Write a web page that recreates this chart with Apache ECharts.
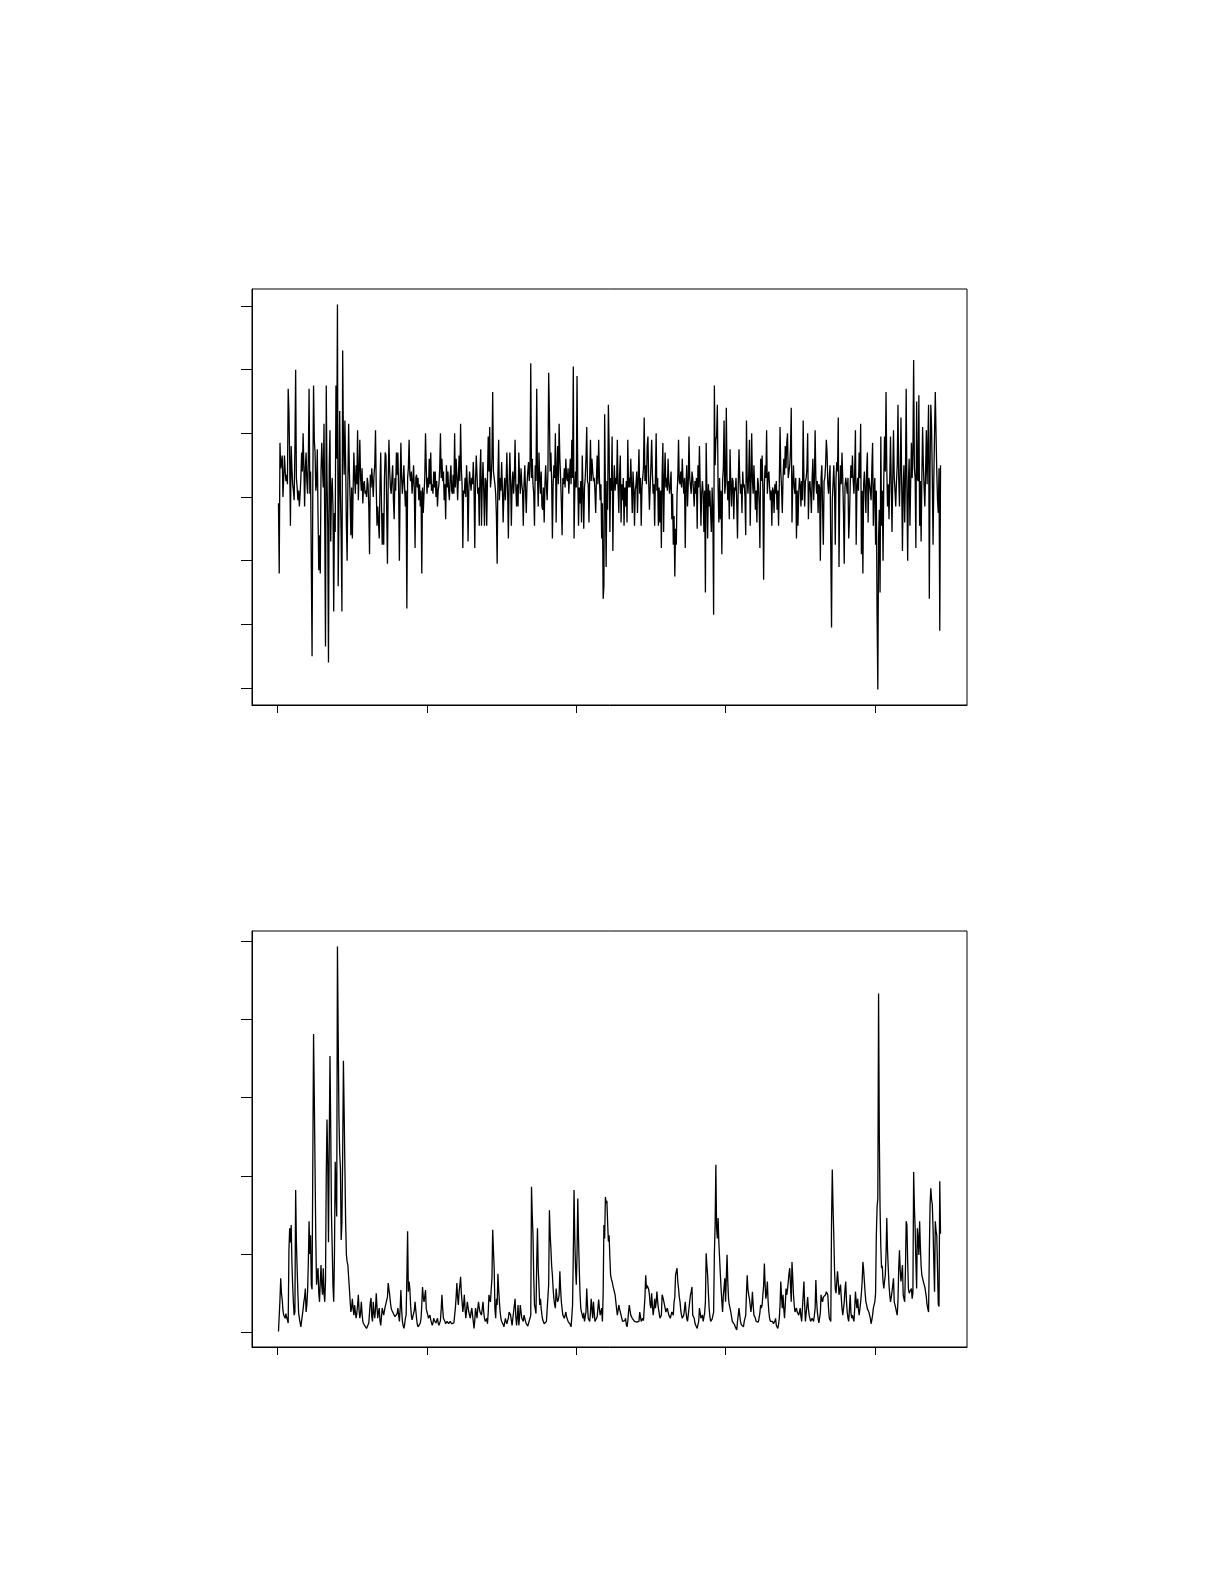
<!DOCTYPE html>
<html>
<head>
<meta charset="utf-8">
<script src="https://cdn.jsdelivr.net/npm/echarts@6/dist/echarts.min.js"></script>
<style>
  html, body { margin: 0; padding: 0; background: #fff; }
  #chart { width: 1225px; height: 1585px; }
</style>
</head>
<body>
<div id="chart"></div>
<script>
const returnsPct = [
-0.2,-2.4,1.7,0.9,1.1,1.3,0.0,0.6,1.3,0.8,
0.5,0.7,0.4,3.4,2.7,1.2,-0.9,1.6,0.9,0.4,
0.2,-0.1,1.5,4.0,0.6,0.3,-0.1,0.2,-0.3,0.1,
0.6,1.4,0.8,2.0,1.0,-0.3,0.9,1.4,0.5,0.1,
1.2,3.4,0.1,0.8,-2.2,-5.0,0.4,3.5,1.8,1.4,
0.2,0.4,1.5,-0.6,-2.3,-1.2,-2.4,0.8,1.7,0.9,
0.3,2.3,-0.9,-4.7,3.5,0.6,-0.9,-5.2,1.0,2.1,
-1.4,0.2,0.6,-0.3,-3.6,-0.5,-1.1,3.5,1.2,6.05,
-2.8,-0.6,2.7,0.1,-1.2,-3.6,4.6,1.8,0.7,2.4,
1.0,-0.9,-2.0,0.5,2.3,0.8,-0.1,-1.2,0.3,-1.3,
0.2,1.4,0.6,0.1,1.0,0.4,2.1,-0.1,0.8,1.8,
0.6,0.2,0.9,-0.2,0.4,0.5,0.1,0.2,0.0,0.6,
0.4,-0.3,-1.8,0.7,0.3,0.9,0.5,0.0,0.7,1.0,
2.1,0.3,-0.9,-0.3,-0.8,-1.3,0.4,1.4,-0.2,-1.5,
-0.5,-1.5,0.6,1.4,1.3,-0.4,-2.1,0.5,1.8,0.8,
0.3,0.1,0.6,1.0,-0.1,-0.7,0.6,0.2,1.4,0.7,
1.4,0.2,-2.0,0.4,1.7,0.6,0.1,0.5,1.0,0.3,
-0.3,0.2,-3.5,0.6,0.9,1.8,0.7,0.5,0.8,0.1,
0.5,1.0,0.2,-1.6,0.6,0.7,0.3,0.6,-0.1,0.4,
-0.3,0.2,-2.4,0.3,-0.5,0.1,0.6,2.0,0.9,0.1,
0.6,0.3,1.2,0.4,1.4,0.2,0.4,0.1,0.8,0.3,
0.8,0.0,0.5,-0.3,0.2,0.4,0.9,2.0,0.6,1.2,
0.5,0.8,-0.1,0.4,-0.7,1.0,0.3,0.8,0.2,-0.1,
0.6,1.0,0.2,0.1,0.7,0.1,2.0,0.3,1.2,0.7,
-0.1,0.6,1.3,0.5,2.3,0.9,0.4,-1.6,0.2,0.1,
0.6,0.0,1.0,0.4,-1.4,0.2,0.8,0.5,0.2,0.6,
0.4,1.1,0.3,-1.6,0.5,1.3,0.7,0.1,0.3,-0.9,
0.8,1.5,-0.9,0.4,1.1,0.2,-0.9,0.6,0.5,-0.9,
0.6,1.9,0.8,2.2,0.3,0.6,1.2,3.3,0.8,0.8,
0.4,0.1,-0.6,-2.1,0.7,1.8,-0.1,0.6,0.2,1.1,
0.3,-0.8,0.1,0.6,-0.1,0.5,1.4,0.2,-1.3,0.4,
1.4,0.5,-0.9,0.4,0.8,0.1,0.6,1.8,0.3,-0.3,
0.4,-0.3,1.4,0.6,0.1,0.9,0.4,0.2,-0.9,0.4,
1.0,0.2,-0.5,0.4,0.8,1.1,0.5,1.0,4.2,0.6,
1.2,0.4,0.1,-0.9,1.0,0.5,3.4,0.7,-0.3,1.4,
0.6,0.1,0.8,-0.3,-0.4,0.3,-0.8,0.4,1.0,0.3,
-0.1,0.8,3.9,2.6,0.8,1.4,0.5,-1.3,0.4,1.0,
0.6,2.0,-0.8,0.8,1.6,0.4,2.3,1.2,0.6,-0.2,
-1.2,0.6,0.4,0.9,0.3,1.2,0.6,0.5,0.9,0.1,
0.7,1.2,0.4,1.8,0.6,4.1,-1.3,0.2,0.8,0.3,
3.8,0.6,-0.9,0.3,-0.2,0.5,-0.8,1.3,0.2,-1.0,
0.3,0.6,1.2,2.2,0.5,0.4,-0.8,0.7,1.8,0.5,
1.2,0.8,0.5,0.6,0.2,-0.5,0.6,1.3,0.4,1.8,
0.6,-0.1,0.4,-1.3,-0.2,-3.2,-2.8,2.6,0.2,-2.2,
0.5,-0.4,2.9,1.6,-1.1,0.6,0.2,1.9,-1.7,0.3,
1.0,0.2,0.6,0.4,1.8,0.3,-0.5,0.7,1.3,-0.8,
0.4,-0.1,0.6,-0.9,0.3,-0.3,0.5,-0.8,1.8,0.3,
0.6,0.3,1.2,0.4,-0.5,0.8,0.3,-0.9,0.2,0.4,
0.8,-0.5,0.6,1.5,0.1,0.6,-0.9,0.3,0.6,0.9,
2.5,0.5,1.0,0.4,1.6,1.9,0.5,-0.4,0.3,1.0,
1.8,0.7,0.1,0.4,-0.9,0.6,2.0,0.2,0.6,-0.9,
0.3,-0.8,0.2,-1.6,0.7,1.7,-1.1,0.5,1.4,0.3,
0.6,0.2,1.2,0.4,0.1,0.4,0.8,-0.7,0.1,-1.5,
-0.6,-2.5,-1.0,-1.5,0.1,0.6,1.8,0.5,0.4,0.8,
0.3,1.2,0.5,0.1,0.6,-1.6,0.4,1.0,-0.3,0.4,
1.9,0.6,0.6,0.1,0.8,0.6,0.2,-0.3,0.5,0.1,
0.6,-1.0,1.0,0.3,1.6,0.4,-0.9,0.1,0.5,0.1,
-1.1,0.2,-3.0,1.7,0.2,-1.3,0.4,-0.3,0.2,-0.5,
-1.1,0.3,-0.5,-3.7,3.5,1.0,1.8,1.9,2.9,0.3,
-0.8,0.6,-0.7,0.2,-1.8,0.5,0.9,2.4,0.1,0.4,
2.8,0.6,-0.1,0.5,-0.7,1.5,0.4,-0.3,0.6,0.5,
-0.7,0.3,0.2,0.6,-0.2,-1.3,0.4,1.5,0.6,0.1,
0.4,-0.5,0.8,0.3,0.4,0.0,-1.2,2.4,0.6,0.1,
0.7,1.8,-0.9,0.4,2.0,0.5,0.1,1.0,0.3,-0.4,
0.2,-0.8,0.6,0.4,-0.2,-1.6,1.2,0.5,1.3,0.2,
-2.6,0.4,1.0,0.6,2.1,0.1,0.7,0.8,0.3,-0.1,
0.2,-0.9,0.3,0.2,-0.5,0.4,0.1,0.5,-0.4,0.2,
-0.9,0.4,2.2,0.8,0.3,-0.5,0.6,1.2,0.7,1.6,
0.9,1.7,2.0,0.6,0.6,1.0,1.5,2.8,-0.8,0.4,
1.0,0.3,0.1,0.6,-1.3,0.2,-0.9,0.1,0.6,0.4,
-0.3,0.5,-0.1,2.4,0.6,-0.3,0.5,0.6,0.9,2.0,
-0.7,0.4,0.5,0.1,-0.5,0.6,1.2,-0.1,0.5,2.1,
0.6,0.1,0.5,-0.5,0.4,0.3,-2.0,0.6,1.0,-0.4,
-1.5,0.5,0.6,1.0,1.8,1.4,0.4,0.1,0.6,1.0,
-1.7,-4.1,-0.1,0.4,1.0,0.2,-1.5,0.6,1.1,0.8,
2.5,-2.2,0.2,1.0,0.4,1.4,0.6,-0.5,-2.1,0.3,
0.6,0.4,0.1,0.6,-1.3,-0.7,0.4,1.0,0.6,1.3,
0.5,0.1,0.8,2.1,-1.5,0.3,0.6,0.2,1.4,0.6,
2.3,-1.8,0.2,-2.4,0.4,0.8,0.2,-0.5,0.8,1.4,
-0.8,0.6,0.6,0.2,-0.1,0.9,1.7,-0.9,0.3,0.6,
-1.5,0.2,-3.7,-6.05,-1.3,-0.4,-3.0,1.9,-0.9,0.2,
-2.0,0.6,1.9,0.8,3.3,0.9,-0.3,0.4,-0.7,0.6,
1.9,0.4,-1.1,0.6,2.1,0.6,0.2,-0.3,0.5,1.0,
2.9,0.6,-0.3,0.8,2.5,0.4,-1.7,0.3,1.0,-0.8,
0.6,3.4,0.2,-2.0,0.5,1.2,-0.9,0.4,1.7,0.6,
1.4,4.3,0.9,0.6,-1.6,3.0,0.6,0.5,3.2,-0.9,
0.5,-1.4,0.6,2.2,1.0,0.3,-0.3,0.8,2.1,0.4,
0.4,2.9,-3.2,1.0,2.9,2.2,0.6,-1.5,0.5,2.0,
3.3,2.0,0.8,-0.1,-0.5,0.9,-4.2,1.0
];

const condVariance = [
0.1,0.3,4.2,6.9,5.0,4.2,2.8,2.2,2.0,1.8,
2.4,1.9,1.6,1.2,10.5,13.3,11.5,13.7,9.0,6.0,
3.8,2.2,2.6,18.2,11.5,8.2,5.0,2.5,1.8,1.2,
0.7,1.5,2.2,3.0,3.9,4.5,5.6,2.6,3.5,5.2,
9.0,14.2,10.0,12.4,6.0,5.5,22.0,38.1,30.0,21.0,
12.0,6.1,7.5,8.2,5.0,3.9,6.5,8.6,6.0,4.8,
8.2,5.0,3.9,6.5,20.0,27.2,22.0,11.5,24.0,35.3,
26.0,15.0,10.7,6.0,3.9,10.0,21.8,18.0,14.8,49.3,
38.0,27.4,23.0,21.0,11.8,14.0,22.7,34.7,28.0,21.0,
14.0,9.9,9.0,8.6,7.0,5.6,4.0,2.6,3.2,4.3,
3.0,2.2,3.5,2.6,1.8,2.5,3.5,4.8,2.8,1.8,
2.5,3.9,2.4,1.4,1.1,0.9,0.8,0.6,0.5,0.6,
0.5,1.2,2.6,3.8,4.4,2.0,1.4,3.9,2.6,1.8,
3.0,5.0,3.2,1.8,2.6,3.1,1.5,0.9,2.0,3.1,
2.6,2.2,2.8,3.3,3.5,3.1,4.5,6.3,5.5,4.8,
3.8,3.1,2.8,2.6,2.4,2.2,2.0,1.9,1.8,2.4,
3.1,2.2,1.4,3.0,5.4,3.0,1.4,0.9,0.5,1.0,
1.8,2.2,7.0,12.9,5.2,6.5,5.6,3.5,2.2,1.6,
1.4,1.8,2.8,3.9,2.8,1.8,1.0,0.7,0.8,0.9,
1.2,1.8,3.5,5.8,4.5,3.9,4.6,5.4,3.0,2.6,
2.2,1.8,2.0,2.2,1.6,1.4,0.9,1.2,1.8,1.5,
1.4,1.2,1.5,1.8,1.2,0.9,0.7,1.5,3.0,4.8,
3.0,1.8,1.6,1.4,1.1,0.9,1.4,1.2,1.1,1.3,
1.4,1.4,1.1,0.9,1.0,1.2,1.4,3.1,4.5,6.3,
4.5,3.5,5.2,6.0,7.1,5.0,3.9,2.6,3.5,4.8,
3.0,1.8,2.8,3.9,3.2,2.6,2.2,1.8,2.6,3.1,
2.2,1.4,0.5,1.5,3.1,2.5,1.8,3.0,3.9,3.1,
2.6,2.4,2.2,3.0,3.9,2.6,1.8,1.4,1.6,1.8,
1.1,2.5,4.8,4.3,3.9,5.5,6.9,13.1,10.5,8.2,
3.0,1.8,4.3,3.5,7.5,5.5,3.9,2.6,1.8,1.4,
1.4,1.0,0.7,1.2,1.8,1.4,1.1,1.5,1.8,2.6,
2.4,2.2,1.5,0.9,1.8,2.6,3.5,4.3,2.0,0.9,
2.0,3.5,0.9,2.0,3.5,2.6,1.8,1.6,1.4,2.2,
1.8,1.4,1.1,0.9,0.8,0.7,1.5,1.8,2.2,18.6,
15.0,12.4,7.0,3.5,3.0,2.4,9.0,13.3,8.2,6.0,
3.5,4.3,3.0,2.2,1.6,1.4,1.1,0.9,1.2,1.4,
1.6,1.5,6.1,15.6,12.5,10.7,8.5,7.3,5.5,4.3,
3.5,3.1,5.6,4.5,3.9,4.2,4.8,7.8,5.5,3.9,
3.0,2.2,2.0,1.8,2.2,2.6,2.0,1.8,1.4,1.6,
1.6,1.0,0.7,2.0,3.5,10.0,18.2,12.0,8.2,6.1,
10.0,17.1,12.0,8.2,5.0,3.1,2.6,2.2,1.8,2.5,
1.4,2.0,2.6,5.6,3.5,1.8,1.6,1.4,2.5,4.3,
3.0,1.8,3.9,2.6,1.4,1.3,1.2,2.0,3.1,4.2,
3.0,2.2,2.6,3.1,1.4,5.0,13.7,12.0,17.3,16.5,
16.8,14.0,11.6,12.4,9.5,7.3,6.8,6.5,6.0,5.6,
5.2,4.8,3.9,3.0,2.2,2.8,3.5,3.0,2.6,2.2,
1.8,1.4,1.3,1.2,1.5,1.8,1.0,0.7,1.4,2.6,
3.5,2.8,2.2,2.0,1.8,1.8,1.6,1.4,1.5,1.6,
1.3,1.1,1.2,1.4,2.6,2.0,1.4,1.6,1.8,1.5,
1.4,4.5,7.3,5.6,6.0,6.1,5.5,4.8,3.5,3.1,
5.0,3.5,2.2,3.0,4.3,3.1,3.8,5.2,4.0,3.1,
2.5,1.8,2.0,2.2,4.8,4.5,4.3,3.6,3.1,2.6,
2.8,3.1,2.6,2.2,2.0,1.8,2.2,2.6,2.4,2.2,
3.9,4.5,7.3,7.8,8.2,6.5,5.6,4.5,3.9,2.8,
2.2,1.8,2.0,2.2,3.0,3.9,2.6,1.8,1.4,2.2,
3.1,4.0,4.8,5.2,5.8,2.2,2.0,1.8,1.2,0.9,
0.7,0.5,1.0,1.4,3.1,2.5,1.8,2.0,2.2,1.4,
1.6,2.5,3.9,10.1,8.5,7.3,5.0,3.1,2.0,1.4,
1.6,1.7,1.8,2.6,10.0,13.7,21.4,13.3,12.0,14.6,
11.5,9.5,7.5,5.6,4.0,2.6,4.7,5.8,6.9,3.9,
7.0,9.9,6.5,4.3,3.5,3.1,2.6,2.0,1.4,1.2,
1.2,1.0,0.7,0.5,0.3,1.4,2.2,3.1,2.2,1.4,
1.0,0.9,0.8,0.7,1.4,1.8,2.2,5.0,7.3,5.5,
4.8,4.3,3.5,2.6,3.5,5.2,3.5,2.2,2.0,1.8,
1.4,1.3,1.2,1.3,1.4,2.5,3.5,3.1,3.5,4.8,
6.0,8.8,6.0,4.3,5.0,6.5,4.0,2.6,1.8,1.4,
1.2,1.3,1.4,1.1,0.9,1.4,1.8,0.9,0.7,0.5,
1.0,1.8,3.5,6.5,4.5,3.1,4.8,3.0,1.8,3.5,
5.6,4.8,5.5,6.5,7.5,8.2,6.0,3.9,9.0,7.0,
4.8,3.5,2.6,2.8,3.1,2.6,2.4,2.2,2.6,3.1,
2.0,1.4,1.3,1.4,6.5,3.5,1.4,1.2,1.4,4.5,
3.0,2.2,1.8,1.4,1.6,1.8,1.6,1.4,2.2,3.1,
6.7,4.0,2.6,1.8,1.2,1.4,2.5,4.8,4.2,3.9,
4.5,4.3,4.6,4.8,5.2,5.4,4.8,3.0,1.8,1.6,
1.4,14.2,20.8,16.0,12.4,8.0,5.6,5.0,4.8,7.8,
6.5,4.8,5.5,6.1,4.5,3.1,2.2,3.0,3.9,5.5,
6.5,4.0,2.6,1.8,1.4,3.0,4.8,2.5,1.8,2.2,
1.8,1.4,3.0,5.2,4.0,3.1,4.3,3.0,2.2,3.0,
3.9,5.0,6.5,9.0,8.0,6.5,5.0,3.9,3.5,3.0,
2.8,2.6,2.2,1.8,1.1,1.6,2.2,3.1,3.5,3.9,
5.0,12.4,16.0,17.1,43.3,25.2,15.9,11.0,8.2,8.5,
6.5,5.6,6.5,7.3,10.0,14.6,10.5,8.2,6.0,4.8,
3.9,4.5,5.2,6.0,6.9,3.9,3.5,3.1,2.6,2.2,
4.0,8.2,10.5,8.0,6.5,7.5,8.6,4.8,4.3,3.9,
8.0,14.2,13.7,9.0,5.6,5.0,4.8,5.0,5.6,4.3,
5.0,20.5,16.0,13.3,9.0,5.6,13.3,12.0,9.9,14.2,
11.0,8.5,7.3,6.9,6.5,6.1,5.8,5.6,4.5,3.5,
3.0,2.6,10.0,16.3,18.4,17.0,16.3,13.3,9.0,5.2,
14.2,13.0,12.4,8.0,3.6,3.3,19.3,12.6
];

// Tick positions (no tick labels are printed in the original)
const xTickValues = [0, 200, 400, 600, 800];
const topYTickValues = [-6, -4, -2, 0, 2, 4, 6];
const bottomYTickValues = [0, 10, 20, 30, 40, 50];

const toPairs = arr => arr.map((v, i) => [i + 1, v]);
const padMin = v => v.min - 0.04 * (v.max - v.min);
const padMax = v => v.max + 0.04 * (v.max - v.min);

function xAxisFor(gi) {
  return {
    type: 'value', gridIndex: gi, min: padMin, max: padMax,
    axisLine: { show: true, onZero: false, lineStyle: { color: '#000', width: 1 } },
    axisTick: { show: true, inside: false, length: 8, customValues: xTickValues,
                lineStyle: { color: '#000', width: 1 } },
    axisLabel: { show: false, customValues: xTickValues },
    splitLine: { show: false }
  };
}
function yAxisFor(gi, ticks) {
  return {
    type: 'value', gridIndex: gi, min: padMin, max: padMax,
    axisLine: { show: true, onZero: false, lineStyle: { color: '#000', width: 1 } },
    axisTick: { show: true, inside: false, length: 11, customValues: ticks,
                lineStyle: { color: '#000', width: 1 } },
    axisLabel: { show: false, customValues: ticks },
    splitLine: { show: false }
  };
}

const chart = echarts.init(document.getElementById('chart'), null, { renderer: 'canvas' });
chart.setOption({
  backgroundColor: '#ffffff',
  animation: false,
  grid: [
    { left: 252, top: 289, width: 715, height: 416, show: true,
      borderColor: '#000', borderWidth: 1, backgroundColor: 'transparent' },
    { left: 252, top: 931, width: 715, height: 416, show: true,
      borderColor: '#000', borderWidth: 1, backgroundColor: 'transparent' }
  ],
  xAxis: [xAxisFor(0), xAxisFor(1)],
  yAxis: [yAxisFor(0, topYTickValues), yAxisFor(1, bottomYTickValues)],
  series: [
    { type: 'line', xAxisIndex: 0, yAxisIndex: 0, data: toPairs(returnsPct),
      symbol: 'none', showSymbol: false, sampling: null,
      lineStyle: { color: '#000', width: 1.3 } },
    { type: 'line', xAxisIndex: 1, yAxisIndex: 1, data: toPairs(condVariance),
      symbol: 'none', showSymbol: false, sampling: null,
      lineStyle: { color: '#000', width: 1.3 } }
  ]
});
</script>
</body>
</html>
